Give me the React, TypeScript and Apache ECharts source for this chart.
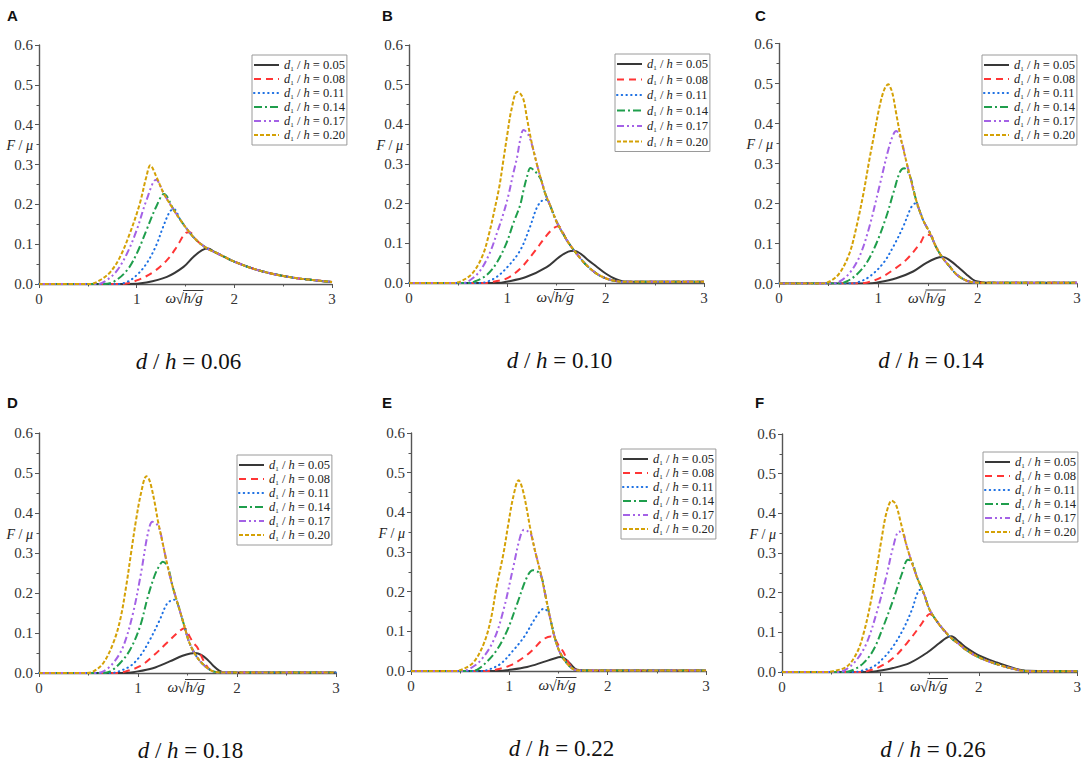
import React, { useEffect, useRef } from "react";
import * as echarts from "echarts";

const SERIF = "'Liberation Serif', 'Times New Roman', serif";
const SANS = "'Liberation Sans', Arial, sans-serif";

const RATIOS = ["0.05", "0.08", "0.11", "0.14", "0.17", "0.20"];
const NAMES = RATIOS.map((r) => "d1/h=" + r);
const CAPTION_VALUES = ["0.06", "0.10", "0.14", "0.18", "0.22", "0.26"];
const LETTERS = ["A", "B", "C", "D", "E", "F"];

// Panel A  d/h = 0.06
const A_005 = [[0, 0], [0.9, 0], [1.1, 0.004], [1.31, 0.018], [1.48, 0.043], [1.58, 0.068], [1.67, 0.085], [1.73, 0.089]];
const A_008 = [[0, 0], [0.85, 0], [1.0, 0.009], [1.17, 0.03], [1.31, 0.06], [1.41, 0.093], [1.5, 0.128], [1.54, 0.13]];
const A_011 = [[0, 0], [0.8, 0], [0.9, 0.005], [1.0, 0.022], [1.1, 0.051], [1.2, 0.097], [1.27, 0.143], [1.34, 0.182], [1.38, 0.188]];
const A_014 = [[0, 0], [0.65, 0], [0.76, 0.005], [0.9, 0.034], [1.0, 0.076], [1.1, 0.135], [1.2, 0.194], [1.28, 0.226]];
const A_017 = [[0, 0], [0.6, 0], [0.69, 0.009], [0.8, 0.034], [0.9, 0.076], [1.0, 0.135], [1.1, 0.21], [1.2, 0.262]];
const A_020 = [[0, 0], [0.52, 0], [0.62, 0.009], [0.73, 0.03], [0.83, 0.068], [0.93, 0.127], [1.03, 0.2], [1.1, 0.27], [1.14, 0.298]];
const A_TAIL = [[1.2, 0.27], [1.28, 0.226], [1.38, 0.186], [1.45, 0.16], [1.54, 0.13], [1.62, 0.108], [1.73, 0.088], [1.8, 0.08], [1.9, 0.068], [2.0, 0.056], [2.2, 0.038], [2.4, 0.025], [2.6, 0.016], [2.8, 0.01], [3.0, 0.005]];

// Panel B  d/h = 0.10
const B_005 = [[0, 0], [0.9, 0], [0.99, 0.003], [1.19, 0.015], [1.4, 0.04], [1.53, 0.066], [1.62, 0.079], [1.68, 0.081], [1.75, 0.073], [1.82, 0.058], [1.9, 0.043], [2.0, 0.024], [2.1, 0.01], [2.2, 0.003], [2.4, 0.003], [3.0, 0.003]];
const B_008 = [[0, 0], [0.78, 0], [0.85, 0.003], [0.99, 0.011], [1.13, 0.036], [1.26, 0.074], [1.4, 0.12], [1.47, 0.138], [1.52, 0.143], [1.58, 0.12]];
const B_011 = [[0, 0], [0.72, 0], [0.79, 0.003], [0.89, 0.015], [1.0, 0.04], [1.13, 0.082], [1.23, 0.141], [1.3, 0.19], [1.35, 0.207], [1.39, 0.21], [1.44, 0.192]];
const B_014 = [[0, 0], [0.6, 0], [0.68, 0.005], [0.79, 0.02], [0.89, 0.05], [0.99, 0.1], [1.06, 0.15], [1.13, 0.196], [1.165, 0.234], [1.2, 0.268], [1.235, 0.29], [1.28, 0.282], [1.34, 0.262]];
const B_017 = [[0, 0], [0.55, 0], [0.62, 0.007], [0.72, 0.03], [0.82, 0.075], [0.9, 0.13], [0.96, 0.175], [1.01, 0.22], [1.06, 0.276], [1.1, 0.318], [1.13, 0.36], [1.165, 0.386], [1.215, 0.373], [1.265, 0.335]];
const B_020 = [[0, 0], [0.45, 0], [0.55, 0.007], [0.65, 0.026], [0.75, 0.07], [0.82, 0.13], [0.87, 0.185], [0.92, 0.245], [0.96, 0.31], [1.0, 0.375], [1.04, 0.435], [1.1, 0.482], [1.13, 0.478]];
const B_TAIL = [[1.165, 0.462], [1.2, 0.415], [1.23, 0.375], [1.265, 0.335], [1.3, 0.3], [1.335, 0.268], [1.385, 0.226], [1.435, 0.196], [1.5, 0.155], [1.6, 0.11], [1.67, 0.085], [1.75, 0.06], [1.8, 0.046], [1.9, 0.025], [2.0, 0.012], [2.1, 0.005], [2.2, 0.003], [3.0, 0.003]];

// Panel C  d/h = 0.14
const C_005 = [[0, 0], [0.9, 0], [0.98, 0.002], [1.18, 0.013], [1.35, 0.03], [1.48, 0.051], [1.58, 0.063], [1.65, 0.066], [1.72, 0.058], [1.8, 0.042], [1.89, 0.022], [1.95, 0.01], [2.0, 0.005], [2.1, 0.002], [3.0, 0.002]];
const C_008 = [[0, 0], [0.8, 0], [0.88, 0.002], [1.01, 0.013], [1.15, 0.034], [1.28, 0.059], [1.42, 0.1], [1.48, 0.122], [1.53, 0.12]];
const C_011 = [[0, 0], [0.7, 0], [0.78, 0.002], [0.91, 0.017], [1.05, 0.051], [1.15, 0.092], [1.25, 0.142], [1.33, 0.19], [1.37, 0.2], [1.42, 0.18]];
const C_014 = [[0, 0], [0.6, 0], [0.68, 0.005], [0.78, 0.022], [0.88, 0.051], [0.98, 0.1], [1.08, 0.167], [1.16, 0.234], [1.22, 0.28], [1.26, 0.288], [1.32, 0.267]];
const C_017 = [[0, 0], [0.52, 0], [0.61, 0.005], [0.71, 0.026], [0.81, 0.067], [0.91, 0.142], [1.01, 0.242], [1.1, 0.334], [1.15, 0.372], [1.18, 0.381], [1.24, 0.35]];
const C_020 = [[0, 0], [0.42, 0], [0.51, 0.005], [0.61, 0.026], [0.71, 0.076], [0.78, 0.142], [0.85, 0.225], [0.91, 0.31], [0.96, 0.375], [1.01, 0.44], [1.06, 0.485], [1.1, 0.498], [1.13, 0.485]];
const C_TAIL = [[1.15, 0.467], [1.18, 0.425], [1.23, 0.359], [1.27, 0.317], [1.32, 0.267], [1.38, 0.209], [1.45, 0.159], [1.52, 0.126], [1.58, 0.092], [1.65, 0.063], [1.72, 0.042], [1.79, 0.022], [1.89, 0.007], [2.0, 0.002], [3.0, 0.002]];

// Panel D  d/h = 0.18
const D_005 = [[0, 0], [0.88, 0], [0.95, 0.002], [1.15, 0.012], [1.32, 0.029], [1.45, 0.043], [1.53, 0.049], [1.58, 0.05], [1.64, 0.045], [1.7, 0.034], [1.76, 0.018], [1.82, 0.006], [1.88, 0.001], [3.0, 0.001]];
const D_008 = [[0, 0], [0.78, 0], [0.85, 0.002], [1.02, 0.017], [1.15, 0.042], [1.29, 0.075], [1.42, 0.105], [1.47, 0.112], [1.52, 0.092], [1.56, 0.075], [1.6, 0.064], [1.66, 0.032], [1.72, 0.01], [1.8, 0.002]];
const D_011 = [[0, 0], [0.72, 0], [0.78, 0.002], [0.92, 0.017], [1.02, 0.042], [1.12, 0.083], [1.22, 0.133], [1.29, 0.172], [1.34, 0.182], [1.37, 0.183], [1.41, 0.168]];
const D_014 = [[0, 0], [0.64, 0], [0.72, 0.004], [0.82, 0.025], [0.92, 0.058], [1.02, 0.116], [1.1, 0.191], [1.17, 0.245], [1.22, 0.27], [1.25, 0.278], [1.3, 0.266]];
const D_017 = [[0, 0], [0.57, 0], [0.65, 0.004], [0.75, 0.025], [0.85, 0.066], [0.95, 0.15], [1.03, 0.249], [1.1, 0.349], [1.146, 0.378], [1.19, 0.372], [1.22, 0.358]];
const D_020 = [[0, 0], [0.47, 0], [0.55, 0.004], [0.65, 0.025], [0.75, 0.075], [0.82, 0.133], [0.88, 0.216], [0.93, 0.3], [0.98, 0.382], [1.03, 0.449], [1.085, 0.492], [1.11, 0.485]];
const D_TAIL = [[1.135, 0.465], [1.17, 0.424], [1.2, 0.382], [1.25, 0.324], [1.3, 0.266], [1.35, 0.216], [1.42, 0.158], [1.47, 0.116], [1.52, 0.075], [1.59, 0.042], [1.66, 0.021], [1.76, 0.004], [1.86, 0.001], [3.0, 0.001]];

// Panel E  d/h = 0.22
const E_005 = [[0, 0], [0.9, 0], [0.98, 0.002], [1.18, 0.01], [1.35, 0.023], [1.45, 0.031], [1.52, 0.035], [1.57, 0.03], [1.62, 0.018], [1.69, 0.003], [1.8, 0.001], [3.0, 0.001]];
const E_008 = [[0, 0], [0.76, 0], [0.84, 0.002], [1.01, 0.014], [1.15, 0.035], [1.25, 0.056], [1.33, 0.077], [1.42, 0.087], [1.46, 0.082], [1.5, 0.065], [1.55, 0.048], [1.6, 0.022], [1.66, 0.005], [1.72, 0.001]];
const E_011 = [[0, 0], [0.7, 0], [0.77, 0.002], [0.91, 0.018], [1.04, 0.052], [1.15, 0.086], [1.25, 0.128], [1.31, 0.15], [1.35, 0.157], [1.39, 0.15]];
const E_014 = [[0, 0], [0.6, 0], [0.67, 0.003], [0.77, 0.023], [0.87, 0.052], [0.98, 0.103], [1.08, 0.17], [1.18, 0.237], [1.24, 0.254], [1.29, 0.25], [1.33, 0.235]];
const E_017 = [[0, 0], [0.52, 0], [0.6, 0.006], [0.71, 0.027], [0.84, 0.077], [0.94, 0.153], [1.04, 0.262], [1.11, 0.338], [1.15, 0.356], [1.19, 0.352], [1.22, 0.345]];
const E_020 = [[0, 0], [0.45, 0], [0.54, 0.006], [0.64, 0.023], [0.74, 0.069], [0.81, 0.128], [0.87, 0.212], [0.94, 0.296], [0.99, 0.371], [1.04, 0.439], [1.095, 0.481], [1.12, 0.47]];
const E_TAIL = [[1.146, 0.447], [1.18, 0.405], [1.21, 0.363], [1.26, 0.304], [1.32, 0.245], [1.37, 0.187], [1.42, 0.128], [1.47, 0.077], [1.52, 0.044], [1.59, 0.018], [1.65, 0.005], [1.72, 0.001], [3.0, 0.001]];

// Panel F  d/h = 0.26
const F_005 = [[0, 0], [0.88, 0], [0.96, 0.002], [1.13, 0.01], [1.3, 0.023], [1.47, 0.048], [1.6, 0.073], [1.67, 0.086], [1.72, 0.09], [1.8, 0.076], [1.875, 0.061], [2.0, 0.042], [2.18, 0.024], [2.35, 0.01], [2.5, 0.003], [3.0, 0.002]];
const F_008 = [[0, 0], [0.78, 0], [0.86, 0.002], [0.99, 0.013], [1.13, 0.035], [1.27, 0.073], [1.4, 0.115], [1.47, 0.14], [1.5, 0.146], [1.55, 0.136]];
const F_011 = [[0, 0], [0.72, 0], [0.79, 0.002], [0.93, 0.014], [1.03, 0.035], [1.13, 0.065], [1.23, 0.107], [1.32, 0.157], [1.37, 0.195], [1.4, 0.207], [1.44, 0.198]];
const F_014 = [[0, 0], [0.65, 0], [0.73, 0.006], [0.83, 0.023], [0.93, 0.056], [1.03, 0.115], [1.13, 0.182], [1.22, 0.249], [1.28, 0.283], [1.32, 0.278]];
const F_017 = [[0, 0], [0.58, 0], [0.66, 0.008], [0.76, 0.031], [0.86, 0.073], [0.96, 0.148], [1.06, 0.241], [1.13, 0.316], [1.19, 0.354], [1.24, 0.345]];
const F_020 = [[0, 0], [0.44, 0], [0.52, 0.002], [0.66, 0.014], [0.76, 0.048], [0.83, 0.098], [0.9, 0.174], [0.96, 0.258], [1.01, 0.333], [1.06, 0.4], [1.115, 0.432], [1.14, 0.428]];
const F_TAIL = [[1.165, 0.417], [1.2, 0.384], [1.25, 0.333], [1.3, 0.291], [1.37, 0.24], [1.44, 0.199], [1.5, 0.157], [1.6, 0.119], [1.71, 0.088], [1.8, 0.07], [1.875, 0.055], [2.0, 0.037], [2.18, 0.02], [2.35, 0.008], [2.5, 0.002], [3.0, 0.002]];

const PANEL_SERIES = [
  [A_005, A_008, A_011, A_014, A_017, A_020],
  [B_005, B_008, B_011, B_014, B_017, B_020],
  [C_005, C_008, C_011, C_014, C_017, C_020],
  [D_005, D_008, D_011, D_014, D_017, D_020],
  [E_005, E_008, E_011, E_014, E_017, E_020],
  [F_005, F_008, F_011, F_014, F_017, F_020],
];
const PANEL_TAILS = [A_TAIL, B_TAIL, C_TAIL, D_TAIL, E_TAIL, F_TAIL];

// layout & style
const GRIDS = [
  { l: 39, t: 45, w: 293, h: 239 },
  { l: 409, t: 45, w: 295, h: 238 },
  { l: 779, t: 43.5, w: 298, h: 240 },
  { l: 39, t: 433, w: 297, h: 240 },
  { l: 411, t: 433, w: 295, h: 238 },
  { l: 782, t: 434, w: 296, h: 238 },
];
const LEGEND_POS = [
  { l: 252, t: 55, gap: 0 },
  { l: 615, t: 54, gap: 1.5 },
  { l: 982, t: 55, gap: 0 },
  { l: 237, t: 455, gap: 0 },
  { l: 621, t: 449, gap: 0 },
  { l: 983, t: 452, gap: 0 },
];
const LETTER_POS = [
  { x: 7, y: 15 },
  { x: 382, y: 15 },
  { x: 755, y: 15 },
  { x: 7, y: 402 },
  { x: 382, y: 402 },
  { x: 755, y: 402 },
];
const COLORS = ["#383838", "#ff3535", "#1b6fe3", "#1f9e4c", "#a462e6", "#d4a106"];
const DASHES: any[] = ["solid", [7, 5], [0.5, 4.2], [8, 3, 2, 3], [7, 3, 2, 3, 2, 3], [4, 2]];
const CAPS = ["butt", "butt", "round", "butt", "butt", "butt"];
const AXIS_COLOR = "#555";

function buildData(own: number[][], tail: number[][]) {
  const lastX = own[own.length - 1][0];
  return own.concat(tail.filter((p) => p[0] > lastX + 0.005));
}

export default function App() {
  const ref = useRef<HTMLDivElement>(null);
  useEffect(() => {
    document.body.style.margin = "0";
    if (!ref.current) return;
    const chart = echarts.init(ref.current, undefined, { renderer: "svg" });

    const series: any[] = [];
    PANEL_SERIES.forEach((list, i) => {
      list.forEach((own, j) => {
        series.push({
          type: "line",
          name: NAMES[j],
          xAxisIndex: i,
          yAxisIndex: i,
          data: buildData(own, PANEL_TAILS[i]),
          symbol: "none",
          showSymbol: false,
          smooth: 0.35,
          silent: true,
          z: 2 + j,
          lineStyle: { color: COLORS[j], width: 2, type: DASHES[j], cap: CAPS[j] },
          itemStyle: { color: COLORS[j] },
        });
      });
    });

    const graphic: any[] = [];
    GRIDS.forEach((g, i) => {
      const lp = LETTER_POS[i];
      graphic.push({
        type: "text",
        x: lp.x,
        y: lp.y,
        style: { text: LETTERS[i], fontFamily: SANS, fontWeight: "bold", fontSize: 15, fill: "#111", align: "left", verticalAlign: "middle" },
      });
      // caption
      graphic.push({
        type: "text",
        x: g.l + g.w / 2 + 3,
        y: g.t + g.h + 77,
        style: {
          text: "{i|d}{n| / }{i|h}{n| = " + CAPTION_VALUES[i] + "}",
          align: "center",
          verticalAlign: "middle",
          fontFamily: SERIF,
          fontSize: 23,
          fill: "#111",
          rich: {
            i: { fontFamily: SERIF, fontSize: 23, fontStyle: "italic", fill: "#111" },
            n: { fontFamily: SERIF, fontSize: 23, fill: "#111" },
          },
        },
      });
      // y axis title
      graphic.push({
        type: "text",
        x: g.l - 6,
        y: g.t + g.h * (1 - 0.347 / 0.6),
        style: {
          text: "{i|F}{n| / }{i|μ}",
          align: "right",
          verticalAlign: "middle",
          fontFamily: SERIF,
          fontSize: 14,
          fill: "#222",
          rich: {
            i: { fontFamily: SERIF, fontSize: 14, fontStyle: "italic", fill: "#222" },
            n: { fontFamily: SERIF, fontSize: 14, fill: "#222" },
          },
        },
      });
      // x axis title  ω√(h/g)
      const cx = g.l + g.w / 2;
      const cy = g.t + g.h + 14;
      graphic.push({
        type: "text",
        x: cx - 9.5,
        y: cy,
        style: { text: "ω", align: "right", verticalAlign: "middle", fontFamily: SERIF, fontStyle: "italic", fontSize: 15, fill: "#222" },
      });
      graphic.push({
        type: "text",
        x: cx - 10,
        y: cy + 0.5,
        style: { text: "√", align: "left", verticalAlign: "middle", fontFamily: SERIF, fontSize: 15, fill: "#222" },
      });
      graphic.push({
        type: "text",
        x: cx - 2,
        y: cy,
        style: { text: "h/g", align: "left", verticalAlign: "middle", fontFamily: SERIF, fontStyle: "italic", fontSize: 15, fill: "#222" },
      });
      graphic.push({
        type: "line",
        shape: { x1: cx - 2.5, y1: cy - 7.5, x2: cx + 18, y2: cy - 7.5 },
        style: { stroke: "#222", lineWidth: 0.9 },
      });
    });

    const option: any = {
      animation: false,
      backgroundColor: "#ffffff",
      grid: GRIDS.map((g) => ({ left: g.l, top: g.t, width: g.w, height: g.h, containLabel: false })),
      xAxis: GRIDS.map((g, i) => ({
        type: "value",
        gridIndex: i,
        min: 0,
        max: 3,
        interval: 1,
        axisLine: { show: true, onZero: false, lineStyle: { color: AXIS_COLOR, width: 1.4 } },
        axisTick: { show: true, inside: false, length: 4, lineStyle: { color: AXIS_COLOR, width: 1 } },
        minorTick: { show: true, splitNumber: 2, length: 2.5, lineStyle: { color: AXIS_COLOR, width: 1 } },
        splitLine: { show: false },
        axisLabel: { fontFamily: SERIF, fontSize: 15, color: "#333", margin: 7 },
      })),
      yAxis: GRIDS.map((g, i) => ({
        type: "value",
        gridIndex: i,
        min: 0,
        max: 0.6,
        interval: 0.1,
        axisLine: { show: true, onZero: false, lineStyle: { color: AXIS_COLOR, width: 1.4 } },
        axisTick: { show: true, inside: false, length: 4, lineStyle: { color: AXIS_COLOR, width: 1 } },
        minorTick: { show: true, splitNumber: 2, length: 2.5, lineStyle: { color: AXIS_COLOR, width: 1 } },
        splitLine: { show: false },
        axisLabel: { fontFamily: SERIF, fontSize: 15, color: "#333", margin: 6, formatter: (v: number) => v.toFixed(1) },
      })),
      legend: LEGEND_POS.map((p) => ({
        left: p.l,
        top: p.t,
        orient: "vertical",
        selectedMode: false,
        data: NAMES,
        itemWidth: 25,
        itemHeight: 14,
        itemGap: p.gap,
        padding: [3, 2, 3, 1],
        borderColor: "#9a9a9a",
        borderWidth: 1,
        backgroundColor: "#fff",
        itemStyle: { opacity: 0 },
        lineStyle: { width: 2 },
        formatter: (name: string) => {
          const r = RATIOS[NAMES.indexOf(name)];
          return "{i|d}{s|1}{n| / }{i|h}{n| = " + r + "}";
        },
        textStyle: {
          fontFamily: SERIF,
          fontSize: 12.5,
          color: "#222",
          lineHeight: 14,
          rich: {
            i: { fontFamily: SERIF, fontSize: 12.5, fontStyle: "italic", color: "#222", lineHeight: 14 },
            s: { fontFamily: SERIF, fontSize: 7, color: "#222", lineHeight: 9, verticalAlign: "bottom" },
            n: { fontFamily: SERIF, fontSize: 12.5, color: "#222", lineHeight: 14 },
          },
        },
      })),
      series,
      graphic,
    };
    chart.setOption(option);
    return () => chart.dispose();
  }, []);
  return <div ref={ref} style={{ width: 1084, height: 764 }} />;
}
